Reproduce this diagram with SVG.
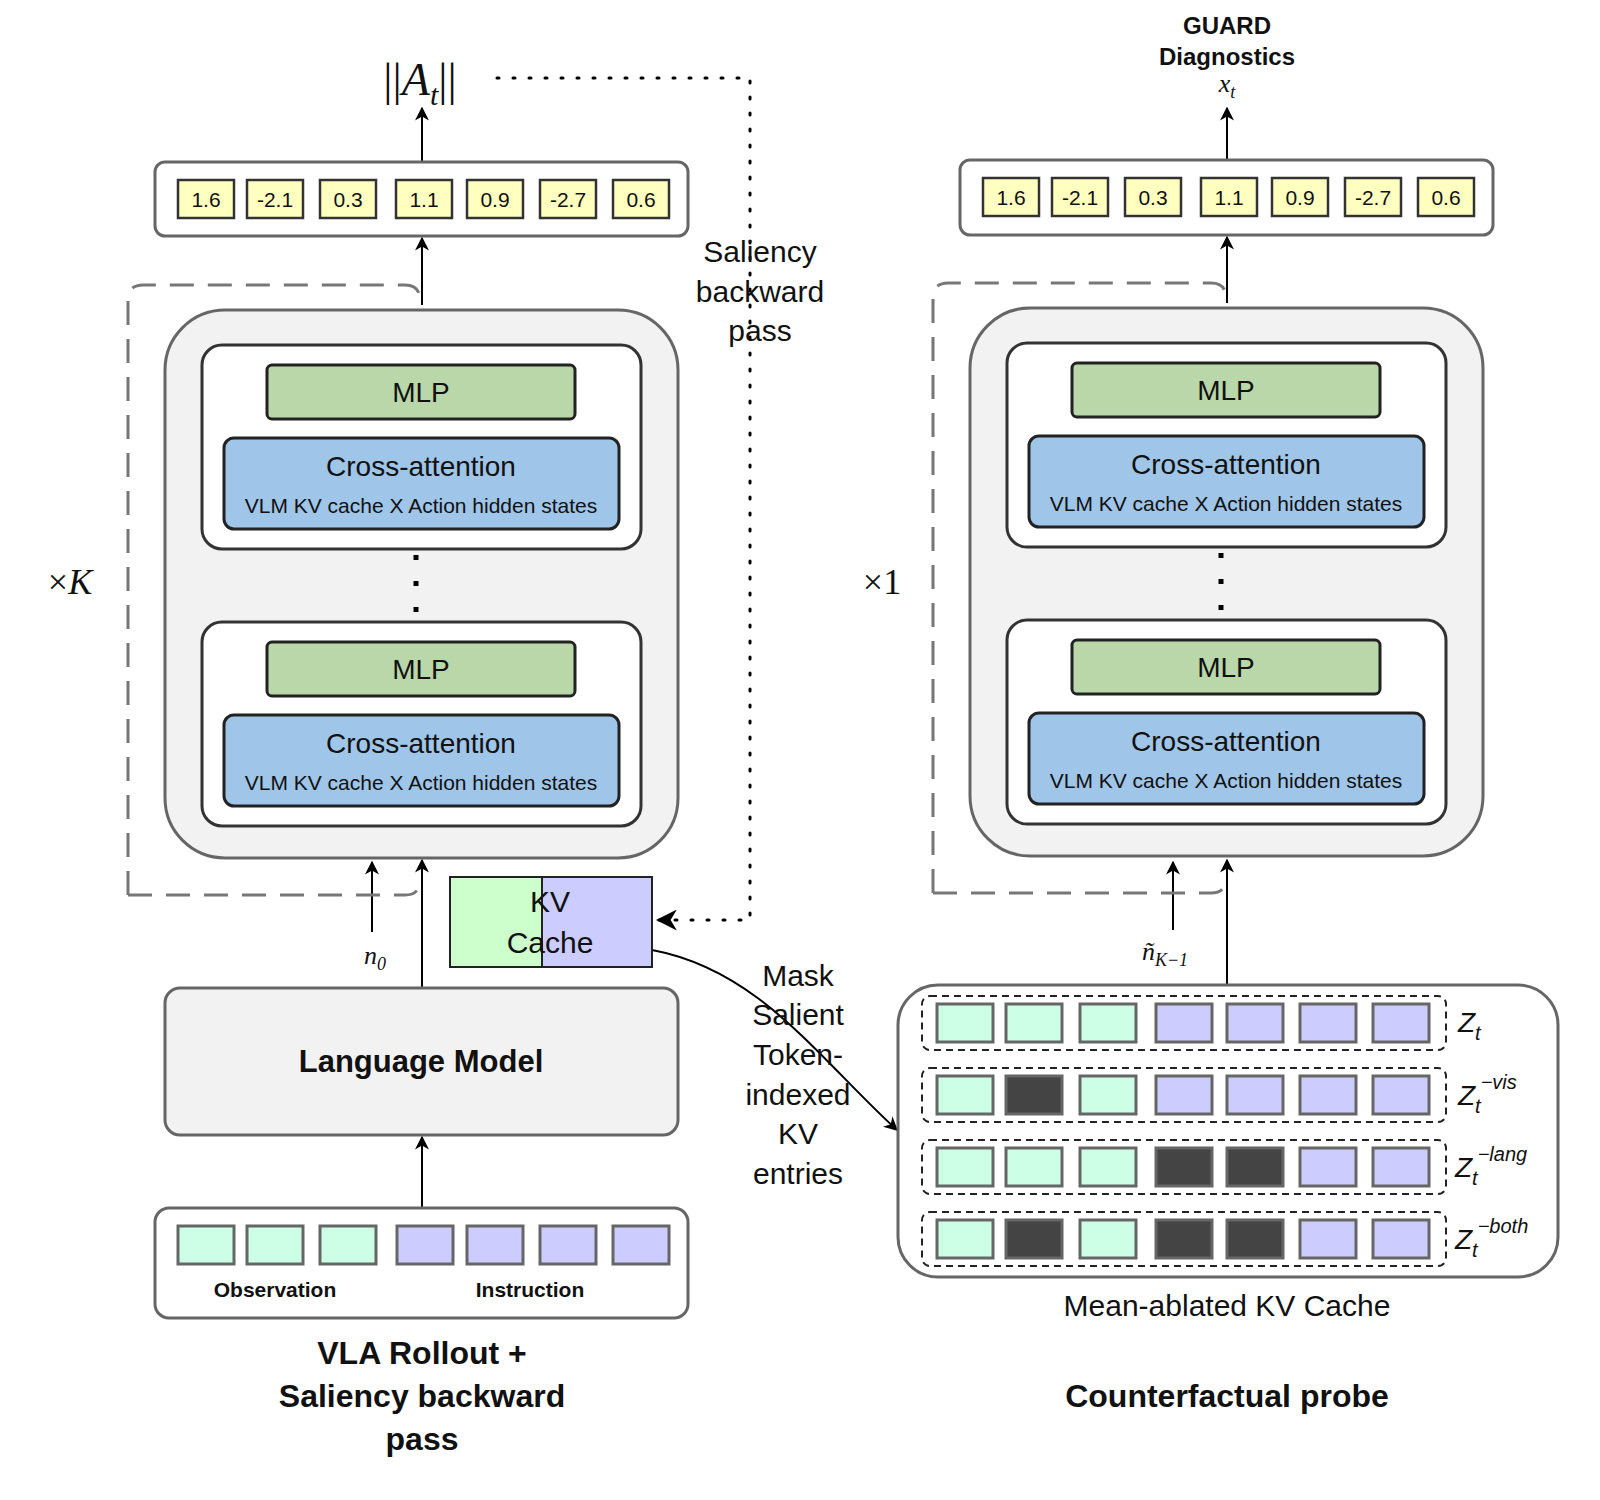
<svg xmlns="http://www.w3.org/2000/svg" width="1600" height="1500" viewBox="0 0 1600 1500">
<defs>
<marker id="ar" viewBox="0 0 10 10" refX="9" refY="5" markerWidth="7" markerHeight="7" orient="auto-start-reverse"><path d="M0,0 L10,5 L0,10 L3,5 z" fill="#000"/></marker>
<style>
text{font-family:"Liberation Sans",Arial,sans-serif;fill:#111}
.m{font-family:"Liberation Serif","DejaVu Serif",serif;font-style:italic}
.ob{fill:#fff;stroke:#666;stroke-width:3}
.v{fill:#ffffc0;stroke:#333;stroke-width:2.5}
.vt{font-size:21px;text-anchor:middle}
.big{fill:#f2f2f2;stroke:#666;stroke-width:3}
.inn{fill:#fff;stroke:#333;stroke-width:3}
.mlp{fill:#b9d7a8;stroke:#222;stroke-width:3}
.ca{fill:#9fc5e8;stroke:#222;stroke-width:3}
.dash{fill:none;stroke:#777;stroke-width:3;stroke-dasharray:24 14}
.g{fill:#ccffe6;stroke:#666;stroke-width:3}
.p{fill:#ccccff;stroke:#666;stroke-width:3}
.d{fill:#444;stroke:#666;stroke-width:3}
.ln{stroke:#000;stroke-width:2;fill:none}
.c{text-anchor:middle}
</style>
</defs>
<g id="connectors">
<line class="ln" x1="422" y1="305" x2="422" y2="238" marker-end="url(#ar)"/>
<line class="ln" x1="422" y1="162" x2="422" y2="108" marker-end="url(#ar)"/>
<line class="ln" x1="372" y1="932" x2="372" y2="862" marker-end="url(#ar)"/>
<line class="ln" x1="422" y1="988" x2="422" y2="860" marker-end="url(#ar)"/>
<line class="ln" x1="422" y1="1208" x2="422" y2="1137" marker-end="url(#ar)"/>
<path d="M497,78 H750 V920 H658" fill="none" stroke="#000" stroke-width="3" stroke-dasharray="2 14" stroke-linecap="round" marker-end="url(#ar)"/>
<path class="ln" d="M652,950 C760,970 820,1060 897,1130" marker-end="url(#ar)"/>
<line class="ln" x1="1227" y1="303" x2="1227" y2="237" marker-end="url(#ar)"/>
<line class="ln" x1="1227" y1="160" x2="1227" y2="108" marker-end="url(#ar)"/>
<line class="ln" x1="1173" y1="930" x2="1173" y2="862" marker-end="url(#ar)"/>
<line class="ln" x1="1227" y1="985" x2="1227" y2="860" marker-end="url(#ar)"/>
</g>
<g id="left-stack">
<path class="dash" d="M128,895 V300 Q128,285 143,285 H405 Q420,285 420,300 M128,895 H405 Q420,895 420,880"/>
<rect class="big" x="165" y="310" width="513" height="548" rx="60"/>
<rect class="inn" x="202" y="345" width="439" height="204" rx="20"/>
<rect class="mlp" x="267" y="365" width="308" height="54" rx="5"/>
<text x="421" y="402" class="c" font-size="28">MLP</text>
<rect class="ca" x="224" y="438" width="395" height="91" rx="10"/>
<text x="421" y="476" class="c" font-size="28">Cross-attention</text>
<text x="421" y="513" class="c" font-size="21">VLM KV cache X Action hidden states</text>
<line x1="416" y1="555" x2="416" y2="612" stroke="#000" stroke-width="5" stroke-dasharray="5 21"/>
<rect class="inn" x="202" y="622" width="439" height="204" rx="20"/>
<rect class="mlp" x="267" y="642" width="308" height="54" rx="5"/>
<text x="421" y="679" class="c" font-size="28">MLP</text>
<rect class="ca" x="224" y="715" width="395" height="91" rx="10"/>
<text x="421" y="753" class="c" font-size="28">Cross-attention</text>
<text x="421" y="790" class="c" font-size="21">VLM KV cache X Action hidden states</text>
<text x="70" y="594" class="m c" font-size="36"><tspan font-style="normal">×</tspan>K</text>
</g>
<g id="left-output">
<rect class="ob" x="155" y="162" width="533" height="74" rx="10"/>
<rect class="v" x="178" y="180" width="56" height="38"/><text class="vt" x="206" y="207">1.6</text>
<rect class="v" x="247" y="180" width="56" height="38"/><text class="vt" x="275" y="207">-2.1</text>
<rect class="v" x="320" y="180" width="56" height="38"/><text class="vt" x="348" y="207">0.3</text>
<rect class="v" x="396" y="180" width="56" height="38"/><text class="vt" x="424" y="207">1.1</text>
<rect class="v" x="467" y="180" width="56" height="38"/><text class="vt" x="495" y="207">0.9</text>
<rect class="v" x="540" y="180" width="56" height="38"/><text class="vt" x="568" y="207">-2.7</text>
<rect class="v" x="613" y="180" width="56" height="38"/><text class="vt" x="641" y="207">0.6</text>
<text x="420" y="95" class="m c" font-size="46"><tspan font-style="normal">||</tspan>A<tspan font-size="30" dy="10">t</tspan><tspan font-style="normal" dy="-10">||</tspan></text>
</g>
<g id="kv-cache">
<rect x="450" y="877" width="92" height="90" fill="#ccffcc" stroke="#222" stroke-width="2"/>
<rect x="542" y="877" width="110" height="90" fill="#ccccff" stroke="#222" stroke-width="2"/>
<text x="550" y="912" class="c" font-size="30">KV</text>
<text x="550" y="953" class="c" font-size="30">Cache</text>
<text x="375" y="964" class="m c" font-size="26">n<tspan font-size="18" dy="6">0</tspan></text>
</g>
<g id="language-model">
<rect class="big" x="165" y="988" width="513" height="147" rx="15"/>
<text x="421" y="1072" class="c" font-size="31" font-weight="bold">Language Model</text>
</g>
<g id="input">
<rect class="ob" x="155" y="1208" width="533" height="110" rx="14"/>
<rect class="g" x="178" y="1226" width="56" height="38"/>
<rect class="g" x="247" y="1226" width="56" height="38"/>
<rect class="g" x="320" y="1226" width="56" height="38"/>
<rect class="p" x="397" y="1226" width="56" height="38"/>
<rect class="p" x="467" y="1226" width="56" height="38"/>
<rect class="p" x="540" y="1226" width="56" height="38"/>
<rect class="p" x="613" y="1226" width="56" height="38"/>
<text x="275" y="1297" class="c" font-size="21" font-weight="bold">Observation</text>
<text x="530" y="1297" class="c" font-size="21" font-weight="bold">Instruction</text>
</g>
<g id="labels">
<text x="422" y="1364" class="c" font-size="32" font-weight="bold">VLA Rollout +</text>
<text x="422" y="1407" class="c" font-size="32" font-weight="bold">Saliency backward</text>
<text x="422" y="1450" class="c" font-size="32" font-weight="bold">pass</text>
<text x="760" y="262" class="c" font-size="30">Saliency</text>
<text x="760" y="302" class="c" font-size="30">backward</text>
<text x="760" y="341" class="c" font-size="30">pass</text>
<text x="798" y="986" class="c" font-size="30">Mask</text>
<text x="798" y="1025" class="c" font-size="30">Salient</text>
<text x="798" y="1065" class="c" font-size="30">Token-</text>
<text x="798" y="1105" class="c" font-size="30">indexed</text>
<text x="798" y="1144" class="c" font-size="30">KV</text>
<text x="798" y="1184" class="c" font-size="30">entries</text>
<text x="1227" y="1316" class="c" font-size="30">Mean-ablated KV Cache</text>
<text x="1227" y="1407" class="c" font-size="32" font-weight="bold">Counterfactual probe</text>
</g>
<g id="right-stack">
<path class="dash" d="M933,893 V298 Q933,283 948,283 H1211 Q1226,283 1226,298 M933,893 H1211 Q1226,893 1226,878"/>
<rect class="big" x="970" y="308" width="513" height="548" rx="60"/>
<rect class="inn" x="1007" y="343" width="439" height="204" rx="20"/>
<rect class="mlp" x="1072" y="363" width="308" height="54" rx="5"/>
<text x="1226" y="400" class="c" font-size="28">MLP</text>
<rect class="ca" x="1029" y="436" width="395" height="91" rx="10"/>
<text x="1226" y="474" class="c" font-size="28">Cross-attention</text>
<text x="1226" y="511" class="c" font-size="21">VLM KV cache X Action hidden states</text>
<line x1="1221" y1="553" x2="1221" y2="610" stroke="#000" stroke-width="5" stroke-dasharray="5 21"/>
<rect class="inn" x="1007" y="620" width="439" height="204" rx="20"/>
<rect class="mlp" x="1072" y="640" width="308" height="54" rx="5"/>
<text x="1226" y="677" class="c" font-size="28">MLP</text>
<rect class="ca" x="1029" y="713" width="395" height="91" rx="10"/>
<text x="1226" y="751" class="c" font-size="28">Cross-attention</text>
<text x="1226" y="788" class="c" font-size="21">VLM KV cache X Action hidden states</text>
<text x="882" y="594" class="m c" font-size="36"><tspan font-style="normal">×1</tspan></text>
<text x="1165" y="960" class="m c" font-size="26">ñ<tspan font-size="18" dy="6">K−1</tspan></text>
</g>
<g id="right-output">
<rect class="ob" x="960" y="160" width="533" height="75" rx="10"/>
<rect class="v" x="983" y="178" width="56" height="38"/><text class="vt" x="1011" y="205">1.6</text>
<rect class="v" x="1052" y="178" width="56" height="38"/><text class="vt" x="1080" y="205">-2.1</text>
<rect class="v" x="1125" y="178" width="56" height="38"/><text class="vt" x="1153" y="205">0.3</text>
<rect class="v" x="1201" y="178" width="56" height="38"/><text class="vt" x="1229" y="205">1.1</text>
<rect class="v" x="1272" y="178" width="56" height="38"/><text class="vt" x="1300" y="205">0.9</text>
<rect class="v" x="1345" y="178" width="56" height="38"/><text class="vt" x="1373" y="205">-2.7</text>
<rect class="v" x="1418" y="178" width="56" height="38"/><text class="vt" x="1446" y="205">0.6</text>
<text x="1227" y="34" class="c" font-size="24" font-weight="bold">GUARD</text>
<text x="1227" y="65" class="c" font-size="24" font-weight="bold">Diagnostics</text>
<text x="1227" y="92" class="m c" font-size="26">x<tspan font-size="18" dy="6">t</tspan></text>
</g>
<g id="ablated-cache">
<rect class="ob" x="898" y="985" width="660" height="292" rx="40"/>
<g fill="none" stroke="#222" stroke-width="2" stroke-dasharray="7 5">
<rect x="922" y="996" width="524" height="54" rx="8"/>
<rect x="922" y="1068" width="524" height="54" rx="8"/>
<rect x="922" y="1140" width="524" height="54" rx="8"/>
<rect x="922" y="1212" width="524" height="54" rx="8"/>
</g>
<rect class="g" x="937" y="1004" width="56" height="38"/><rect class="g" x="1006" y="1004" width="56" height="38"/><rect class="g" x="1080" y="1004" width="56" height="38"/><rect class="p" x="1156" y="1004" width="56" height="38"/><rect class="p" x="1227" y="1004" width="56" height="38"/><rect class="p" x="1300" y="1004" width="56" height="38"/><rect class="p" x="1373" y="1004" width="56" height="38"/>
<rect class="g" x="937" y="1076" width="56" height="38"/><rect class="d" x="1006" y="1076" width="56" height="38"/><rect class="g" x="1080" y="1076" width="56" height="38"/><rect class="p" x="1156" y="1076" width="56" height="38"/><rect class="p" x="1227" y="1076" width="56" height="38"/><rect class="p" x="1300" y="1076" width="56" height="38"/><rect class="p" x="1373" y="1076" width="56" height="38"/>
<rect class="g" x="937" y="1148" width="56" height="38"/><rect class="g" x="1006" y="1148" width="56" height="38"/><rect class="g" x="1080" y="1148" width="56" height="38"/><rect class="d" x="1156" y="1148" width="56" height="38"/><rect class="d" x="1227" y="1148" width="56" height="38"/><rect class="p" x="1300" y="1148" width="56" height="38"/><rect class="p" x="1373" y="1148" width="56" height="38"/>
<rect class="g" x="937" y="1220" width="56" height="38"/><rect class="d" x="1006" y="1220" width="56" height="38"/><rect class="g" x="1080" y="1220" width="56" height="38"/><rect class="d" x="1156" y="1220" width="56" height="38"/><rect class="d" x="1227" y="1220" width="56" height="38"/><rect class="p" x="1300" y="1220" width="56" height="38"/><rect class="p" x="1373" y="1220" width="56" height="38"/>
<g class="m" font-size="28">
<text x="1458" y="1032">Z<tspan font-size="20" dy="8">t</tspan></text>
<text x="1458" y="1105">Z<tspan font-size="20" dy="8">t</tspan><tspan font-size="20" dy="-24">−vis</tspan></text>
<text x="1455" y="1177">Z<tspan font-size="20" dy="8">t</tspan><tspan font-size="20" dy="-24">−lang</tspan></text>
<text x="1455" y="1249">Z<tspan font-size="20" dy="8">t</tspan><tspan font-size="20" dy="-24">−both</tspan></text>
</g>
</g>
</svg>
